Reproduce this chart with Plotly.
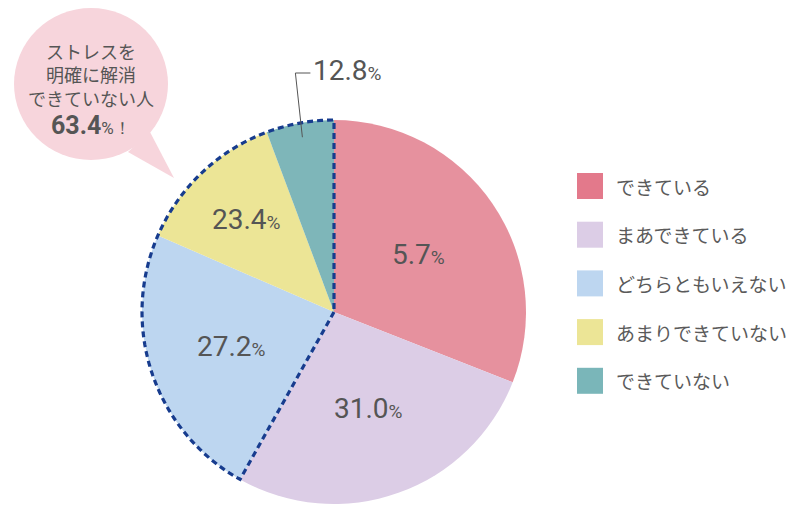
import math
import plotly.graph_objects as go

# ---------------- data ----------------
categories = ["できている", "まあできている", "どちらともいえない", "あまりできていない", "できていない"]
slice_shares = [31.0, 27.2, 23.4, 12.8, 5.7]          # slice sizes as drawn
label_values = ["5.7", "31.0", "27.2", "23.4", "12.8"]  # percentages printed on slices
unresolved_slices = [2, 3, 4]                          # slices inside the dashed outline
unresolved_total = "63.4"
bubble_lines = ["ストレスを", "明確に解消", "できていない人"]

# ---------------- style ----------------
slice_colors = ["#e6919e", "#dccde6", "#bdd6f0", "#ece596", "#7eb6b9"]
legend_colors = ["#e3798b", "#dccde6", "#bdd6f0", "#ece596", "#7ab6b9"]
label_radius = [0.535, 0.535, 0.565, 0.665, 0.925]
TEXT = "#555555"
NUM_FONT = "Roboto"
JP_FONT = "Noto Sans CJK JP"

W, H = 800, 516
CX, CY, R = 334, 312, 192

total = sum(slice_shares)
cum = [0]
for v in slice_shares:
    cum.append(cum[-1] + v)


def ang(frac):
    return frac / total * 2 * math.pi


def pt(a, r):
    return CX + r * math.sin(a), CY - r * math.cos(a)


fig = go.Figure()
fig.add_trace(go.Pie(
    labels=categories,
    values=slice_shares,
    sort=False,
    direction="clockwise",
    rotation=0,
    marker=dict(colors=slice_colors, line=dict(width=0)),
    textinfo="none",
    hoverinfo="label+value",
    showlegend=False,
    domain=dict(x=[(CX - R) / W, (CX + R) / W], y=[1 - (CY + R) / H, 1 - (CY - R) / H]),
))

shapes = []
annotations = []

# dashed outline around unresolved group
a0 = ang(cum[unresolved_slices[0]])
a1 = ang(cum[unresolved_slices[-1] + 1])
n = 80
path = f"M {CX},{CY}"
for i in range(n + 1):
    x, y = pt(a0 + (a1 - a0) * i / n, R)
    path += f" L {x:.2f},{y:.2f}"
path += " Z"
shapes.append(dict(type="path", path=path, xref="x", yref="y", layer="above",
                   line=dict(color="#173c8e", width=3.2, dash="6px,4px"),
                   fillcolor="rgba(0,0,0,0)"))

# inside labels
for i in range(4):
    mid = ang((cum[i] + cum[i + 1]) / 2)
    x, y = pt(mid, R * label_radius[i])
    annotations.append(dict(
        x=x, y=y, xref="x", yref="y", showarrow=False,
        text=f"{label_values[i]}<span style='font-size:19px'>%</span>",
        font=dict(family=NUM_FONT, size=28, color=TEXT),
        xanchor="center", yanchor="middle"))

# outside label for the last slice with leader line
mid = ang((cum[4] + cum[5]) / 2)
sx, sy = pt(mid, R * label_radius[4])
ey = 73
ex = sx - 7
shapes.append(dict(type="path", path=f"M {sx:.2f},{sy:.2f} L {ex:.2f},{ey} L {ex + 15:.2f},{ey}",
                   xref="x", yref="y", layer="above",
                   line=dict(color="#555555", width=1)))
annotations.append(dict(
    x=ex + 16, y=ey - 3, xref="x", yref="y", showarrow=False,
    text=f"{label_values[4]}<span style='font-size:19px'>%</span>",
    font=dict(family=NUM_FONT, size=28, color=TEXT),
    xanchor="left", yanchor="middle"))

# legend
for i, name in enumerate(categories):
    yc = 186 + i * 48.7
    shapes.append(dict(type="rect", x0=577, x1=603, y0=yc - 13, y1=yc + 13,
                       xref="x", yref="y", layer="above",
                       fillcolor=legend_colors[i], line=dict(width=0)))
    annotations.append(dict(x=614, y=yc, xref="x", yref="y", showarrow=False,
                            text=name, font=dict(family=JP_FONT, size=19, color="#5a5a5a"),
                            xanchor="left", yanchor="middle"))

# speech bubble
bub = "#f7d5dc"
shapes.append(dict(type="circle", x0=14, x1=168, y0=8, y1=160, xref="x", yref="y",
                   layer="above", fillcolor=bub, line=dict(width=0)))
shapes.append(dict(type="path", path="M 150,132 L 128,152 L 174,178 Z", xref="x", yref="y",
                   layer="above", fillcolor=bub, line=dict(width=0)))
annotations.append(dict(x=91, y=74, xref="x", yref="y", showarrow=False,
                        text="<br>".join(bubble_lines),
                        font=dict(family=JP_FONT, size=18, color=TEXT),
                        align="center", xanchor="center", yanchor="middle"))
annotations.append(dict(
    x=91, y=125, xref="x", yref="y", showarrow=False,
    text=f"<b>{unresolved_total}</b><span style='font-size:17px'>%！</span>",
    font=dict(family=NUM_FONT, size=25, color=TEXT),
    xanchor="center", yanchor="middle"))

fig.update_layout(
    width=W, height=H,
    margin=dict(l=0, r=0, t=0, b=0),
    paper_bgcolor="white", plot_bgcolor="white",
    xaxis=dict(range=[0, W], domain=[0, 1], visible=False, fixedrange=True),
    yaxis=dict(range=[H, 0], domain=[0, 1], visible=False, fixedrange=True),
    shapes=shapes,
    annotations=annotations,
    showlegend=False,
)

fig.write_html("out.html", config={"displayModeBar": False},
               post_script="document.body.style.margin='0px';")
